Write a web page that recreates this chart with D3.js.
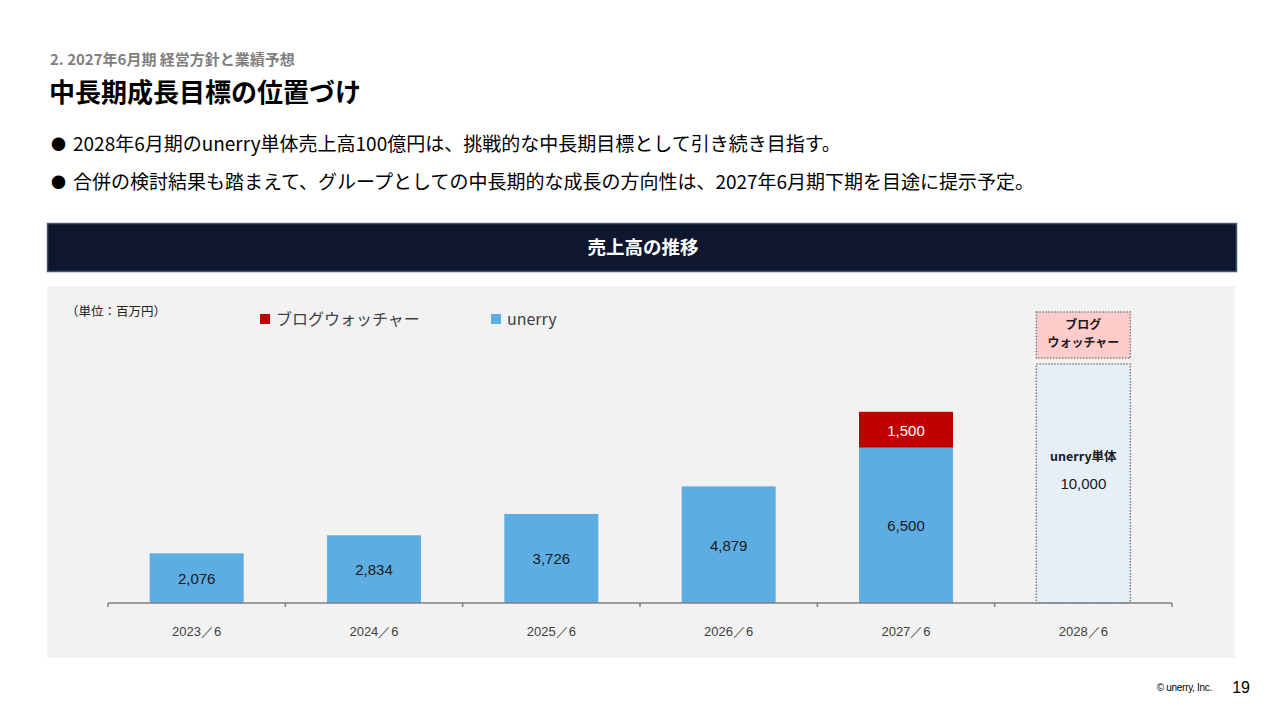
<!DOCTYPE html>
<html><head><meta charset="utf-8">
<script src="https://cdn.jsdelivr.net/npm/d3@7"></script>
<style>
html,body{margin:0;padding:0;background:#fff;}
svg{display:block;}
</style></head>
<body>
<svg id="c" width="1280" height="720"></svg>
<script>
const categories = ["2023／6","2024／6","2025／6","2026／6","2027／6","2028／6"];
const unerryValues = [2076, 2834, 3726, 4879, 6500, null];
const blogValues = [null, null, null, null, 1500, null];
const targetUnerry = 10000;          // 2028 target (placeholder box)
const targetBlogPlaceholder = [10250, 12180]; // estimated extent of dashed placeholder box
const legendLabels = ["ブログウォッチャー","unerry"];
const bullets = [
  "2028年6月期のunerry単体売上高100億円は、挑戦的な中長期目標として引き続き目指す。",
  "合併の検討結果も踏まえて、グループとしての中長期的な成長の方向性は、2027年6月期下期を目途に提示予定。"
];

const JP = "'Noto Sans CJK JP','Noto Sans',sans-serif";
const AR = "'Liberation Sans',Arial,sans-serif";
const svg = d3.select("#c");

// Header texts
svg.append("text").attr("x",50).attr("y",65).attr("font-family",JP).attr("font-weight",700)
  .attr("font-size",15).attr("fill","#7f7f7f").text("2. 2027年6月期 経営方針と業績予想");
svg.append("text").attr("x",49).attr("y",102).attr("font-family",JP).attr("font-weight",700)
  .attr("font-size",26).attr("fill","#000").text("中長期成長目標の位置づけ");

bullets.forEach((b,i)=>{
  const y = 150 + i*38;
  svg.append("text").attr("x",51).attr("y",y).attr("font-family",JP).attr("font-size",15).attr("fill","#000").text("●");
  svg.append("text").attr("x",73).attr("y",y+1).attr("font-family",JP).attr("font-size",19).attr("fill","#000").text(b);
});

// Section bar
svg.append("rect").attr("x",47.5).attr("y",223.5).attr("width",1189).attr("height",48)
  .attr("fill","#0f172e").attr("stroke","#3e5a74").attr("stroke-width",1.5);
svg.append("text").attr("x",643).attr("y",254).attr("text-anchor","middle").attr("font-family",JP)
  .attr("font-weight",700).attr("font-size",18.5).attr("fill","#fff").text("売上高の推移");

// Chart panel
svg.append("rect").attr("x",47).attr("y",286).attr("width",1188).attr("height",372).attr("fill","#f2f2f2");

svg.append("text").attr("x",66).attr("y",316).attr("font-family",JP).attr("font-size",12.5).attr("fill","#222").text("（単位：百万円）");

// legend
const legColors = ["#c00000","#5dade2"];
const legX = [260, 491];
legendLabels.forEach((l,i)=>{
  svg.append("rect").attr("x",legX[i]).attr("y",314).attr("width",10).attr("height",10).attr("fill",legColors[i]);
  svg.append("text").attr("x",legX[i]+16).attr("y",325).attr("font-family",JP).attr("font-size",16).attr("fill","#404040").text(l);
});

// scales
const x = d3.scaleBand().domain(categories).range([108,1172]).paddingInner(0.47).paddingOuter(0.235);
const y = d3.scaleLinear().domain([0,12000]).range([603,316.2]);

const g = svg.append("g");
// unerry bars
categories.forEach((c,i)=>{
  const v = unerryValues[i];
  if(v!=null){
    g.append("rect").attr("x",x(c)).attr("y",y(v)).attr("width",x.bandwidth()).attr("height",y(0)-y(v)).attr("fill","#5dade2");
    g.append("text").attr("x",x(c)+x.bandwidth()/2).attr("y",(y(v)+y(0))/2+6).attr("text-anchor","middle")
      .attr("font-family",AR).attr("font-size",15).attr("fill","#1a1a1a").text(d3.format(",")(v));
  }
  const b = blogValues[i];
  if(b!=null){
    const base = v||0;
    g.append("rect").attr("x",x(c)).attr("y",y(base+b)).attr("width",x.bandwidth()).attr("height",y(base)-y(base+b)).attr("fill","#c00000");
    g.append("text").attr("x",x(c)+x.bandwidth()/2).attr("y",(y(base+b)+y(base))/2+6).attr("text-anchor","middle")
      .attr("font-family",AR).attr("font-size",15).attr("fill","#fff").text(d3.format(",")(b));
  }
});

// 2028 placeholder boxes
const c28 = categories[5];
const bx = x(c28), bw = x.bandwidth(), cx = bx+bw/2;
g.append("rect").attr("x",bx).attr("y",y(targetUnerry)).attr("width",bw).attr("height",y(0)-y(targetUnerry))
  .attr("fill","#e6eef8").attr("stroke","#7f7f7f").attr("stroke-width",1.5).attr("stroke-dasharray","1.5,1.5");
g.append("rect").attr("x",bx).attr("y",y(targetBlogPlaceholder[1])).attr("width",bw)
  .attr("height",y(targetBlogPlaceholder[0])-y(targetBlogPlaceholder[1]))
  .attr("fill","#ffcccc").attr("stroke","#7f7f7f").attr("stroke-width",1.5).attr("stroke-dasharray","1.5,1.5");
g.append("text").attr("x",cx).attr("y",329).attr("text-anchor","middle").attr("font-family",JP).attr("font-weight",700)
  .attr("font-size",12).attr("fill","#1a1a1a").text("ブログ");
g.append("text").attr("x",cx).attr("y",347).attr("text-anchor","middle").attr("font-family",JP).attr("font-weight",700)
  .attr("font-size",12).attr("fill","#1a1a1a").text("ウォッチャー");
g.append("text").attr("x",cx).attr("y",461).attr("text-anchor","middle").attr("font-family",JP).attr("font-weight",700)
  .attr("font-size",12.5).attr("fill","#1a1a1a").text("unerry単体");
g.append("text").attr("x",cx).attr("y",489).attr("text-anchor","middle").attr("font-family",AR)
  .attr("font-size",15).attr("fill","#1a1a1a").text(d3.format(",")(targetUnerry));

// axis
const axis = d3.axisBottom(x).tickSize(0).tickPadding(24);
const ax = svg.append("g").attr("transform","translate(0,603)").call(axis);
ax.select(".domain").attr("stroke","#808080").attr("stroke-width",1.5).attr("d","M108,0H1172");
ax.selectAll("text").attr("font-family",AR).attr("font-size",13).attr("fill","#404040");
// category boundary ticks
const bounds = categories.map(c=>x(c)-x.step()*x.paddingInner()/2).concat([1172]);
ax.selectAll(".bt").data(bounds).enter().append("line").attr("class","bt")
  .attr("x1",d=>d).attr("x2",d=>d).attr("y1",0).attr("y2",4).attr("stroke","#808080").attr("stroke-width",1.5);

// footer
svg.append("text").attr("x",1212).attr("y",691).attr("text-anchor","end").attr("font-family",AR).attr("font-size",10).attr("fill","#000").attr("letter-spacing",-0.3).text("© unerry, Inc.");
svg.append("text").attr("x",1250).attr("y",693).attr("text-anchor","end").attr("font-family",AR).attr("font-size",16).attr("fill","#000").text("19");
</script>
</body></html>
